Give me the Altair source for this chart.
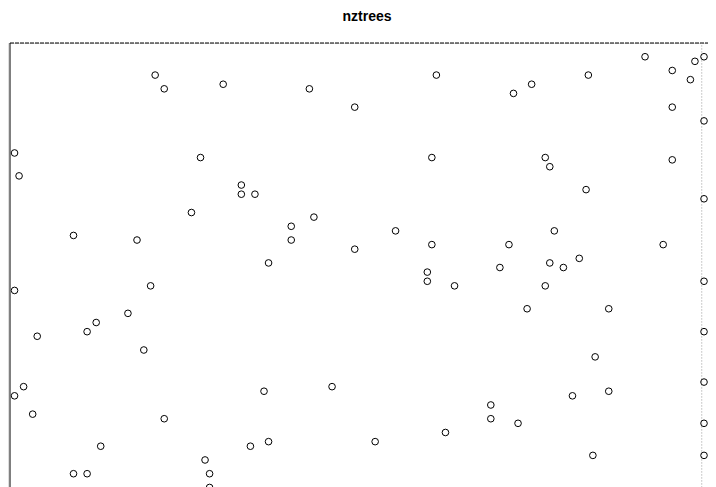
import altair as alt
import pandas as pd

# nztrees point pattern (coordinates)
tree_x = [140, 146, 151, 153, 150, 32, 34, 47, 66, 76, 94, 127.5, 115, 111, 146, 153,
          1, 2, 42, 93, 118, 119, 146, 51, 51, 54, 127, 153, 40, 67, 62, 85, 120,
          14, 28, 62, 93, 110, 144, 76, 57, 119, 122, 125.5, 108, 92, 92, 98, 118,
          1, 31, 153, 114, 132, 26, 19, 17, 6, 153, 29.5, 129, 3, 1, 71, 56, 124,
          132, 153, 106, 5, 34, 106, 112, 153, 96, 80.5, 57, 53, 20, 153, 128.5,
          43, 14, 17, 44, 44]
tree_y = [92, 89, 91, 92, 87, 88, 85, 86, 85, 81, 88, 88, 86, 84, 81, 78,
          71, 66, 70, 70, 70, 68, 69.5, 64, 62, 62, 63, 61, 58, 57, 55, 54, 54,
          53, 52, 52, 51, 51, 51, 50, 47, 47, 46, 48, 46, 45, 43, 42, 42,
          41, 42, 43, 37, 37, 36, 34, 32, 31, 32, 28, 26.5, 20, 18, 20, 19, 18,
          19, 21, 16, 14, 13, 13, 12, 12, 10, 8, 8, 7, 7, 5, 5,
          4, 1, 1, 1, -2]

# frame lines of the window
top_x = [0]
top_x2 = [154]
top_y = [95]
left_x = [0]
side_y = [-2]
side_y2 = [95]
right_x = [152.5]

X_DOMAIN = [-0.441, 153.88]
Y_DOMAIN = [-1.9, 95]

pts = pd.DataFrame({"x": tree_x, "y": tree_y})
xs = alt.Scale(domain=X_DOMAIN, nice=False, zero=False)
ys = alt.Scale(domain=Y_DOMAIN, nice=False, zero=False)

points = alt.Chart(pts).mark_point(
    shape="circle", filled=False, size=44, color="black", strokeWidth=1, opacity=1
).encode(
    x=alt.X("x:Q", scale=xs, axis=None),
    y=alt.Y("y:Q", scale=ys, axis=None),
)

top = alt.Chart(pd.DataFrame({"x": top_x, "x2": top_x2, "y": top_y})).mark_rule(
    color="black", strokeWidth=1, strokeDash=[4, 1]
).encode(
    x=alt.X("x:Q", scale=xs, axis=None), x2="x2:Q",
    y=alt.Y("y:Q", scale=ys, axis=None),
)

left = alt.Chart(pd.DataFrame({"x": left_x, "y": side_y, "y2": side_y2})).mark_rule(
    color="black", strokeWidth=1
).encode(
    x=alt.X("x:Q", scale=xs, axis=None),
    y=alt.Y("y:Q", scale=ys, axis=None), y2="y2:Q",
)

right = alt.Chart(pd.DataFrame({"x": right_x, "y": side_y, "y2": side_y2})).mark_rule(
    color="#999999", strokeWidth=1, strokeDash=[1, 2]
).encode(
    x=alt.X("x:Q", scale=xs, axis=None),
    y=alt.Y("y:Q", scale=ys, axis=None), y2="y2:Q",
)

chart = alt.layer(top, left, right, points).properties(
    width=700,
    height=444,
    autosize=alt.AutoSizeParams(type="none"),
    padding={"left": 0, "top": 35, "right": 0, "bottom": 0},
    title=alt.TitleParams(
        "nztrees", anchor="middle", font="Liberation Sans", fontSize=14,
        fontWeight="bold", color="black", offset=19, dx=9
    ),
).configure_view(stroke=None).configure(background="white")

chart.save("out.html", embed_options={"renderer": "svg", "actions": False})
